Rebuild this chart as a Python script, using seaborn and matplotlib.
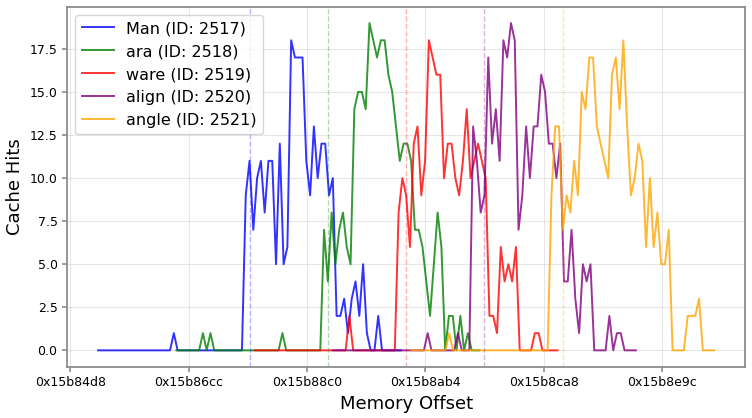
import numpy as np
import pandas as pd
import seaborn as sns
import matplotlib
matplotlib.use("Agg")
import matplotlib.pyplot as plt
from matplotlib.ticker import FuncFormatter

# tokens and where they sit in memory
tokens = ["Man", "ara", "ware", "align", "angle"]
token_ids = [2517, 2518, 2519, 2520, 2521]
centers = [22775757, 22776088, 22776419, 22776750, 22777081]
colors = ["blue", "green", "red", "purple", "orange"]

# 81 samples per token, 16 bytes apart, centred on the token offset
STEP = 16
HALF = 40

hits_man = [0] * 20 + [1] + [0] * 18 + [
    9, 11, 7, 10, 11, 8, 11, 11, 5, 12, 5, 6, 18, 17, 17, 17, 11, 9, 13, 10,
    12, 12, 9, 10, 2, 2, 3, 1, 3, 4, 2, 5, 1, 0, 0, 2, 0, 0, 0, 0, 0, 0]
hits_ara = [0] * 7 + [1, 0, 1] + [0] * 18 + [1] + [0] * 10 + [
    7, 4, 8, 5, 7, 8, 6, 5, 14, 15, 15, 14, 19, 18, 17, 18, 18, 16, 15, 13,
    11, 12, 12, 11, 7, 7, 6, 4, 2, 5, 8, 6, 0, 2, 2, 0, 2, 0, 1, 0, 0, 0]
hits_ware = [0] * 25 + [2] + [0] * 12 + [
    8, 10, 9, 6, 12, 13, 9, 11, 18, 17, 16, 16, 10, 12, 12, 10, 9, 11, 14, 10,
    11, 12, 11, 10, 2, 2, 1, 6, 4, 5, 4, 6, 0, 0, 0, 0, 1, 1, 0, 0, 0, 0, 0]
hits_align = [0] * 25 + [1] + [0] * 7 + [1, 0, 0, 0] + [
    13, 11, 8, 9, 17, 12, 14, 11, 18, 17, 19, 18, 7, 9, 13, 10, 13, 13, 16, 15,
    12, 12, 10, 12, 4, 4, 7, 3, 1, 5, 4, 5, 0, 0, 0, 0, 2, 0, 1, 1, 0, 0, 0, 0]
hits_angle = [0] * 10 + [1] + [0] * 26 + [
    9, 13, 13, 7, 9, 8, 11, 9, 15, 14, 17, 17, 13, 12, 11, 10, 16, 17, 14, 18,
    13, 9, 10, 12, 11, 6, 10, 6, 8, 5, 5, 7, 0, 0, 0, 0, 2, 2, 2, 3, 0, 0, 0, 0]

all_hits = [hits_man, hits_ara, hits_ware, hits_align, hits_angle]

rows = []
for tok, tid, c, hits in zip(tokens, token_ids, centers, all_hits):
    label = f"{tok} (ID: {tid})"
    for k, h in enumerate(hits):
        rows.append({"offset": c + (k - HALF) * STEP, "hits": h, "token": label})
df = pd.DataFrame(rows)
labels = [f"{t} (ID: {i})" for t, i in zip(tokens, token_ids)]
palette = dict(zip(labels, colors))

fig, ax = plt.subplots(figsize=(7.52, 4.18), dpi=100)
fig.subplots_adjust(left=0.0895, right=0.9907, top=0.984, bottom=0.1227)

sns.lineplot(data=df, x="offset", y="hits", hue="token", hue_order=labels,
             palette=palette, alpha=0.8, linewidth=1.4, ax=ax)

for c, col in zip(centers, colors):
    ax.axvline(c, color=col, linestyle="--", alpha=0.3, linewidth=1)

ax.xaxis.set_major_formatter(FuncFormatter(lambda v, p: hex(int(v))))
ax.tick_params(labelsize=9, color="0.55", width=1.2)
for sp in ax.spines.values():
    sp.set_color("0.55")
    sp.set_linewidth(1.3)
ax.set_xlabel("Memory Offset", fontsize=13)
ax.set_ylabel("Cache Hits", fontsize=13)
ax.grid(True, alpha=0.3)
ax.legend(loc="upper left", fontsize=11.5)

plt.savefig("out.png", dpi=100)
